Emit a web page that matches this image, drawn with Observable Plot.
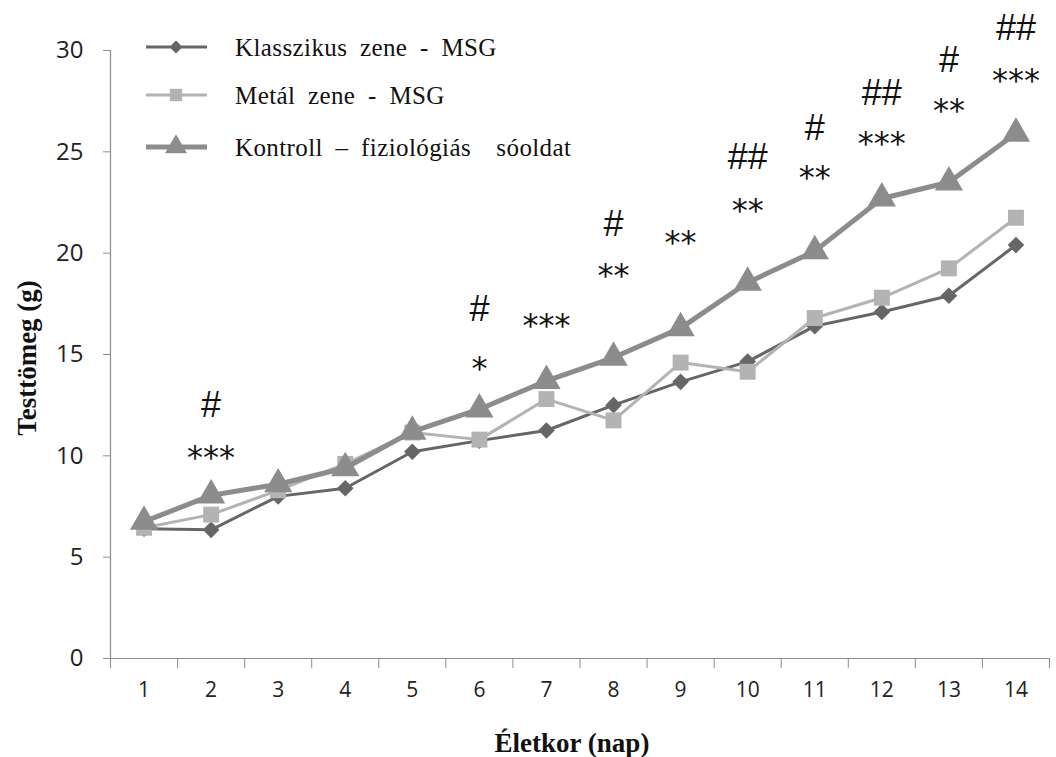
<!DOCTYPE html>
<html>
<head>
<meta charset="utf-8">
<script src="https://cdn.jsdelivr.net/npm/d3@7"></script>
<script src="https://cdn.jsdelivr.net/npm/@observablehq/plot@0.6"></script>
<style>
  html, body { margin: 0; padding: 0; background: #fff; }
  #wrap { position: relative; width: 1056px; height: 757px; }
  #legend { position: absolute; left: 0; top: 0; }
</style>
</head>
<body>
<div id="wrap"></div>
<script>
const days = [1, 2, 3, 4, 5, 6, 7, 8, 9, 10, 11, 12, 13, 14];
const klasszikus = [6.4, 6.35, 8.0, 8.4, 10.2, 10.75, 11.25, 12.5, 13.65, 14.65, 16.4, 17.1, 17.9, 20.4];
const metal      = [6.45, 7.1, 8.3, 9.6, 11.15, 10.8, 12.8, 11.75, 14.6, 14.15, 16.8, 17.8, 19.25, 21.75];
const kontroll   = [6.75, 8.05, 8.6, 9.4, 11.2, 12.3, 13.7, 14.85, 16.3, 18.55, 20.1, 22.7, 23.5, 25.9];

const seriesNames = ["Klasszikus zene - MSG", "Metál zene - MSG", "Kontroll \u2013 fiziológiás  sóoldat"];
const seriesValues = [klasszikus, metal, kontroll];
const seriesColors = ["#666666", "#b3b3b3", "#8c8c8c"];
const seriesWidths = [3, 3, 5];
const seriesSymbols = ["diamond2", "square", "triangle"];
const seriesR = [7.5, 9, 10.5];

// significance marks: "#" row and "*" row per day
const hashDays   = [2, 6, 8, 10, 11, 12, 13, 14];
const hashLabels = ["#", "#", "#", "##", "#", "##", "#", "##"];
const hashValues = [12.5, 17.2, 21.4, 24.7, 26.15, 27.9, 29.5, 31.1];
const starDays   = [2, 6, 7, 8, 9, 10, 11, 12, 13, 14];
const starLabels = ["***", "*", "***", "**", "**", "**", "**", "***", "**", "***"];
const starValues = [10.1, 14.5, 16.6, 19.1, 20.7, 22.3, 23.9, 25.6, 27.2, 28.7];

const yTicks = [0, 5, 10, 15, 20, 25, 30];
const xBoundaries = d3.range(0.5, 15, 1);

const data = [];
seriesNames.forEach((name, i) => {
  days.forEach((d, j) => data.push({series: name, idx: i, day: d, value: seriesValues[i][j]}));
});
const hashes = hashDays.map((d, i) => ({day: d, label: hashLabels[i], value: hashValues[i]}));
const stars = starDays.map((d, i) => ({day: d, label: starLabels[i], value: starValues[i]}));

const marks = [
  Plot.ruleX([0.5], {stroke: "#8c8c8c", strokeWidth: 1.2}),
  Plot.ruleY([0], {stroke: "#8c8c8c", strokeWidth: 1.2}),
  Plot.axisY({ticks: yTicks, tickSize: 7, tickPadding: 20, stroke: "#8c8c8c", fontSize: 24, label: null}),
  Plot.axisX({ticks: xBoundaries, tickSize: 10, tickFormat: () => "", stroke: "#8c8c8c", label: null}),
  Plot.axisX({ticks: days, tickSize: 0, tickPadding: 24, fontSize: 21, label: null, ariaLabel: "x-labels"})
];
seriesNames.forEach((name, i) => {
  const sub = data.filter(d => d.idx === i);
  marks.push(Plot.line(sub, {x: "day", y: "value", stroke: seriesColors[i], strokeWidth: seriesWidths[i]}));
  marks.push(Plot.dot(sub, {x: "day", y: "value", symbol: seriesSymbols[i], r: seriesR[i], fill: seriesColors[i], stroke: "none"}));
});
marks.push(Plot.text(hashes, {x: "day", y: "value", text: "label", fontSize: 36, fill: "#111", fontFamily: "'Liberation Sans', Arial, sans-serif", ariaLabel: "hashes"}));
marks.push(Plot.text(stars, {x: "day", y: "value", text: "label", fontSize: 32, dy: 4, fill: "#111", fontFamily: "'DejaVu Sans', sans-serif", ariaLabel: "stars"}));

const chart = Plot.plot({
  width: 1056,
  height: 757,
  marginLeft: 110,
  marginRight: 7,
  marginTop: 50,
  marginBottom: 99,
  x: {domain: [0.5, 14.5]},
  y: {domain: [0, 30]},
  style: {fontFamily: "'Open Sans', sans-serif", color: "#222", background: "#fff", overflow: "visible"},
  marks
});

const svg = d3.select(chart);
svg.selectAll('g[aria-label="stars"] text').style("letter-spacing", "5px");
svg.selectAll('g[aria-label="x-labels"] text').style("font-family", "'Liberation Sans Narrow', 'DejaVu Sans Condensed', sans-serif");

// axis titles
svg.append("text")
  .attr("x", 572).attr("y", 752)
  .attr("text-anchor", "middle")
  .style("font-family", "'Liberation Serif', serif")
  .style("font-weight", "bold").style("font-size", "27px").attr("fill", "#111")
  .text("Életkor (nap)");
svg.append("text")
  .attr("transform", "translate(36,358) rotate(-90)")
  .attr("text-anchor", "middle")
  .style("font-family", "'Liberation Serif', serif")
  .style("font-weight", "bold").style("font-size", "27px").attr("fill", "#111")
  .text("Testtömeg (g)");

document.getElementById("wrap").appendChild(chart);

// legend
const leg = d3.select("#wrap").append("svg").attr("id", "legend").attr("width", 640).attr("height", 180);
const legY = [47, 95, 147];
seriesNames.forEach((name, i) => {
  const g = leg.append("g");
  g.append("line").attr("x1", 146).attr("x2", 207).attr("y1", legY[i]).attr("y2", legY[i])
    .attr("stroke", seriesColors[i]).attr("stroke-width", seriesWidths[i]);
  const sym = {diamond2: d3.symbolDiamond2, square: d3.symbolSquare, triangle: d3.symbolTriangle}[seriesSymbols[i]];
  g.append("path").attr("d", d3.symbol(sym, Math.PI * seriesR[i] * seriesR[i] * 0.6)())
    .attr("transform", `translate(176,${legY[i]})`).attr("fill", seriesColors[i]);
  g.append("text").attr("x", 235).attr("y", legY[i]).attr("dy", "0.35em")
    .style("font-family", "'Liberation Serif', serif").style("font-size", "25px")
    .style("word-spacing", "6px").style("letter-spacing", "0.4px").attr("fill", "#111")
    .style("white-space", "pre").text(name);
});
</script>
</body>
</html>
